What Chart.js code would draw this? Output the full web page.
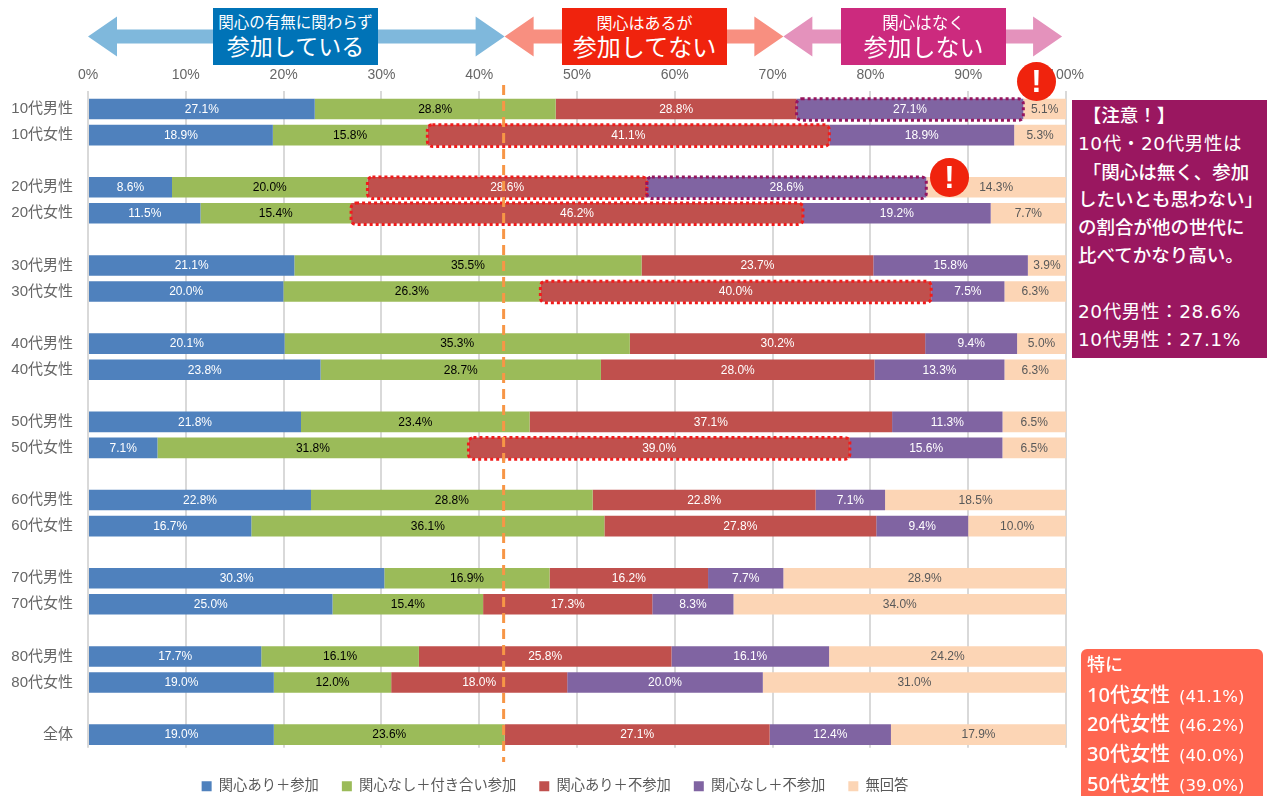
<!DOCTYPE html>
<html lang="ja"><head><meta charset="utf-8">
<title>関心と参加</title>
<script src="https://cdn.jsdelivr.net/npm/chart.js@4"></script>
<style>
html,body{margin:0;padding:0;background:#fff;width:1267px;height:796px;overflow:hidden}
#wrap{position:relative;width:1267px;height:796px;font-family:"Noto Sans","Noto Sans CJK JP",sans-serif}
canvas{position:absolute;left:0;top:0}
.tag{position:absolute;top:8px;height:57px;width:165px;color:#fff;text-align:center;line-height:1;font-family:"Noto Sans CJK JP",sans-serif;font-weight:400}
.tag .a{position:absolute;left:0;right:0;top:6px}
.tag .b{position:absolute;left:0;right:0;top:26px}
.bang{position:absolute;width:39px;height:39px;border-radius:50%;background:#F0230D;color:#fff;font:bold 31px/39px "Liberation Sans",sans-serif;text-align:center}
#note{position:absolute;left:1072px;top:100px;width:195px;height:258px;background:#9A1760;color:#fff;font-size:18.5px;font-weight:500;line-height:27.8px;box-sizing:border-box;padding:1px 0 0 6px;white-space:pre}
#note .w{font-family:"DejaVu Sans","Noto Sans CJK JP",sans-serif;font-weight:400;letter-spacing:.6px}
#note2{position:absolute;left:1081px;top:649px;width:182px;height:147px;overflow:hidden;background:#FF6650;border-radius:6px 6px 0 0;color:#fff;font-size:20px;font-weight:500;box-sizing:border-box;padding:1px 0 0 6px;white-space:nowrap}
#note2 div{height:29.7px;line-height:29.7px}
#note2 div:first-child{font-size:18px}
#note2 small{font:400 16.5px/1 "DejaVu Sans",sans-serif;margin-left:4px}
</style></head><body>
<div id="wrap">
<canvas id="c" width="1267" height="796"></canvas>
<div class="tag" style="left:213px;background:#0073B7"><div class="a" style="font-size:15.5px">関心の有無に関わらず</div><div class="b" style="font-size:23px">参加している</div></div>
<div class="tag" style="left:562px;background:#F0230D"><div class="a" style="font-size:16px">関心はあるが</div><div class="b" style="font-size:24px">参加してない</div></div>
<div class="tag" style="left:841px;background:#CC2A7E"><div class="a" style="font-size:16.5px">関心はなく</div><div class="b" style="font-size:24px">参加しない</div></div>
<div class="bang" style="left:1017px;top:62px">!</div>
<div class="bang" style="left:930px;top:158px">!</div>
<div id="note"> 【注意！】
<span class="w">10代・20代男性は</span>
 「関心は無く、参加
したいとも思わない」
の割合が他の世代に
比べてかなり高い。

<span class="w">20代男性：28.6%</span>
<span class="w">10代男性：27.1%</span></div>
<div id="note2"><div>特に</div><div>10代女性 <small>(41.1%)</small></div><div>20代女性 <small>(46.2%)</small></div><div>30代女性 <small>(40.0%)</small></div><div>50代女性 <small>(39.0%)</small></div></div>
</div>
<script>
const categories = ["10代男性","10代女性","","20代男性","20代女性","","30代男性","30代女性","","40代男性","40代女性","","50代男性","50代女性","","60代男性","60代女性","","70代男性","70代女性","","80代男性","80代女性","","全体"];
const seriesNames = ["関心あり＋参加","関心なし＋付き合い参加","関心あり＋不参加","関心なし＋不参加","無回答"];
const kanshinAriSanka = [27.1,18.9,null,8.6,11.5,null,21.1,20.0,null,20.1,23.8,null,21.8,7.1,null,22.8,16.7,null,30.3,25.0,null,17.7,19.0,null,19.0];
const kanshinNashiSanka = [28.8,15.8,null,20.0,15.4,null,35.5,26.3,null,35.3,28.7,null,23.4,31.8,null,28.8,36.1,null,16.9,15.4,null,16.1,12.0,null,23.6];
const kanshinAriFusanka = [28.8,41.1,null,28.6,46.2,null,23.7,40.0,null,30.2,28.0,null,37.1,39.0,null,22.8,27.8,null,16.2,17.3,null,25.8,18.0,null,27.1];
const kanshinNashiFusanka = [27.1,18.9,null,28.6,19.2,null,15.8,7.5,null,9.4,13.3,null,11.3,15.6,null,7.1,9.4,null,7.7,8.3,null,16.1,20.0,null,12.4];
const mukaitou = [5.1,5.3,null,14.3,7.7,null,3.9,6.3,null,5.0,6.3,null,6.5,6.5,null,18.5,10.0,null,28.9,34.0,null,24.2,31.0,null,17.9];
const seriesValues = [kanshinAriSanka,kanshinNashiSanka,kanshinAriFusanka,kanshinNashiFusanka,mukaitou];
const seriesColors = ["#4F81BD","#9BBB59","#C0504D","#8064A2","#FCD5B5"];
const labelColors = ["#ffffff","#000000","#ffffff","#ffffff","#595959"];
const xTicks = [0,10,20,30,40,50,60,70,80,90,100];
// [row index, series index, stroke colour]
const highlights = [[1,2,"#F01C1C"],[3,2,"#F01C1C"],[4,2,"#F01C1C"],[7,2,"#F01C1C"],[13,2,"#F01C1C"],[0,3,"#96145E"],[3,3,"#96145E"]];
const splitLine = 42.6;
const arrowSpans = [[0,42.6,"#7FB8DC"],[42.6,71.1,"#F88F80"],[71.1,99.6,"#E492BC"]];

const totals = categories.map((_,i)=>seriesValues.reduce((s,a)=>s+(a[i]||0),0));
const datasets = seriesNames.map((n,k)=>({
  label:n,
  data:seriesValues[k].map((v,i)=>v==null?null:v/totals[i]*100),
  backgroundColor:seriesColors[k],
  borderWidth:0,
  categoryPercentage:1,
  barPercentage:0.79
}));
const FONT = "'Liberation Sans','Noto Sans CJK JP',sans-serif";
const overlay = {
  id:'overlay',
  afterLayout(chart){
    const l = chart.legend, h = l.bottom-l.top;
    l.left += 22; l.right += 22;
    l.top = 756; l.bottom = 756+h;
  },
  afterDatasetsDraw(chart){
    const {ctx,scales:{x}} = chart;
    ctx.save();
    // value labels
    ctx.font = "12px "+FONT; ctx.textAlign='center'; ctx.textBaseline='middle';
    seriesValues.forEach((arr,k)=>{
      const meta = chart.getDatasetMeta(k);
      arr.forEach((v,i)=>{
        if(v==null) return;
        const el = meta.data[i];
        ctx.fillStyle = labelColors[k];
        ctx.fillText(v.toFixed(1)+"%",(el.x+el.base)/2,el.y+0.5);
      });
    });
    // dotted highlights
    highlights.forEach(([i,k,col])=>{
      const el = chart.getDatasetMeta(k).data[i];
      const h = el.height;
      ctx.beginPath();
      ctx.roundRect(el.base,el.y-h/2,el.x-el.base,h+1,5);
      ctx.strokeStyle = col; ctx.lineWidth = 3; ctx.setLineDash([3,3]);
      ctx.stroke();
    });
    // dashed split line
    ctx.beginPath();
    const sx = x.getPixelForValue(splitLine);
    ctx.moveTo(sx-1,85); ctx.lineTo(sx-1,762);
    ctx.strokeStyle="#F79646"; ctx.lineWidth=3; ctx.setLineDash([10,6]); ctx.stroke();
    ctx.setLineDash([]);
    // arrows
    const cy=36.5, hw=20, sw=7, hl=29;
    arrowSpans.forEach(([a,b,col])=>{
      const l=x.getPixelForValue(a), r=x.getPixelForValue(b);
      ctx.beginPath();
      ctx.moveTo(l,cy); ctx.lineTo(l+hl,cy-hw); ctx.lineTo(l+hl,cy-sw); ctx.lineTo(r-hl,cy-sw);
      ctx.lineTo(r-hl,cy-hw); ctx.lineTo(r,cy); ctx.lineTo(r-hl,cy+hw); ctx.lineTo(r-hl,cy+sw);
      ctx.lineTo(l+hl,cy+sw); ctx.lineTo(l+hl,cy+hw); ctx.closePath();
      ctx.fillStyle=col; ctx.fill();
    });
    ctx.restore();
  }
};
new Chart(document.getElementById('c'),{
  type:'bar',
  data:{labels:categories,datasets},
  options:{
    indexAxis:'y',responsive:false,animation:false,
    layout:{padding:{left:0,right:201,top:0,bottom:1}},
    plugins:{
      tooltip:{enabled:false},
      legend:{position:'bottom',labels:{boxWidth:10,boxHeight:10,padding:23,color:'#595959',font:{family:FONT,size:14.3}}}
    },
    scales:{
      x:{position:'top',stacked:true,min:0,max:100,
        afterBuildTicks(s){ s.ticks = xTicks.map(v=>({value:v})); },
        afterFit(s){ s.height=96; },
        grid:{color:'#D9D9D9',lineWidth:2,tickLength:5,drawTicks:true},
        border:{display:false},
        ticks:{maxRotation:0,padding:7,color:'#666666',font:{family:FONT,size:14},callback:v=>v+'%'}},
      y:{stacked:true,
        afterFit(s){ s.width=88; },
        grid:{display:false},border:{display:false},
        ticks:{autoSkip:false,padding:7,color:'#666666',font:{family:FONT,size:15}}}
    }
  },
  plugins:[overlay]
});
</script>
</body></html>
